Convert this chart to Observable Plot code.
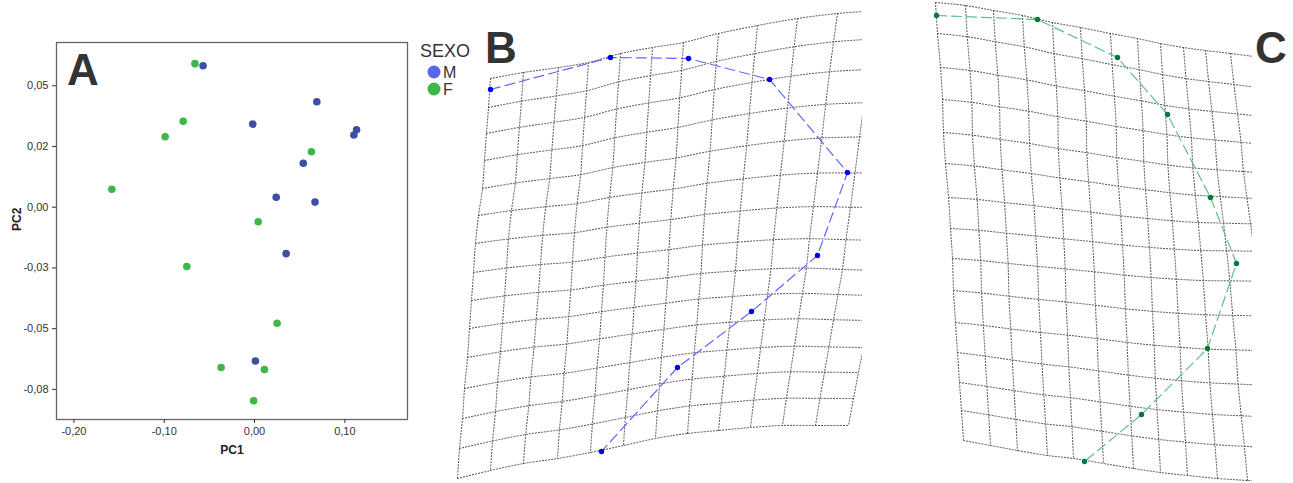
<!DOCTYPE html>
<html><head><meta charset="utf-8">
<script src="https://cdn.jsdelivr.net/npm/d3@7"></script>
<script src="https://cdn.jsdelivr.net/npm/@observablehq/plot@0.6"></script>
<style>
body{margin:0;background:#fff;}
#fig{position:relative;width:1293px;height:483px;overflow:hidden;font-family:"Liberation Sans",Arial,sans-serif;background:#fff;}
#fig .panel{position:absolute;top:0;}
#fig svg{overflow:visible;}
</style></head><body><div id="fig"></div>
<script>
// ---------- Panel A: PCA scores ----------
const sexo = ["M", "F"];
const pc1M = [-0.057, 0.069, -0.002, 0.113, 0.110, 0.054, 0.024, 0.067, 0.035, 0.001];
const pc2M = [0.0582, 0.0434, 0.0342, 0.0319, 0.0297, 0.0181, 0.0041, 0.0021, -0.0191, -0.0633];
const pc1F = [-0.066, -0.079, -0.099, -0.158, 0.063, 0.004, -0.075, 0.025, -0.037, 0.011, -0.001];
const pc2F = [0.0591, 0.0354, 0.0290, 0.0074, 0.0228, -0.0060, -0.0244, -0.0478, -0.0660, -0.0668, -0.0797];
const xTicks = [-0.2, -0.1, 0, 0.1];
const xTickLabels = ["-0,20", "-0,10", "0,00", "0,10"];
const yTicks = [0.05, 0.025, 0, -0.025, -0.05, -0.075];
const yTickLabels = ["0,05", "0,02", "0,00", "-0,03", "-0,05", "-0,08"];

// ---------- Panel B: deformation grid (boundary nodes) and landmarks ----------
const bTopX = [490,523,558,588,620,652,683,718,757,797,837,877,917];
const bTopY = [78,72,67,62,53,47,42,33,25,18,13,10,6.5];
const bBotX = [457,490,523,557,590,623,655,687,718,750,782,815,848];
const bBotY = [478,470,463,458,452,445,438,433,430,427,425,425,425];
const bLeftX = [490,488,486,484,482,478,475,473,471,469,467,464,462,459,457];
const bLeftY = [78,107,133,160,188,215,243,272,300,328,357,388,418,448,478];
const bRightX = [917,912,907,902,897,892,887,882,878,873,868,863,858,853,848];
const bRightY = [6.5,35,66,100,135,172,207,240,270,295,320,347,372,398,425];
const bLmX = [490,610,688,769,847,817,751,677,601];
const bLmY = [89,57,58,79,172,255,311,367,451];

// ---------- Panel C ----------
const cTopX = [935,965,993,1022,1052,1080,1110,1137,1160,1183,1205,1230,1253];
const cTopY = [2,5,10,15,22,27,33,38,43,47,50,53,56];
const cBotX = [963,990,1017,1047,1073,1103,1133,1160,1187,1217,1247,1277,1307];
const cBotY = [440,445,450,455,458,463,468,472,475,478,480,482,484];
const cLeftX = [935,937,940,942,943,945,948,950,952,953,955,957,959,961,963];
const cLeftY = [2,33,67,99,132,163,197,228,258,290,322,352,382,410,440];
const cRightX = [1253,1257,1261,1265,1268,1272,1276,1280,1284,1288,1292,1295,1299,1303,1307];
const cRightY = [56,87,116,144,173,199,224,251,281,316,351,386,418,449,484];
const cLmX = [936,1037,1117,1167,1210,1236,1207,1141,1084];
const cLmY = [15,19,57,114,197,263,348,414,461];

const fig = document.getElementById("fig");
const FONT = "Liberation Sans, Arial, sans-serif";

function place(node, left, width) {
  const d = document.createElement("div");
  d.className = "panel";
  d.style.left = left + "px";
  d.style.width = width + "px";
  d.appendChild(node);
  fig.appendChild(d);
}

// Panel A
const ptsA = [
  ...pc1M.map((v, i) => ({pc1: v, pc2: pc2M[i], sexo: "M"})),
  ...pc1F.map((v, i) => ({pc1: v, pc2: pc2F[i], sexo: "F"}))
];
const plotA = Plot.plot({
  width: 470, height: 483,
  marginLeft: 56, marginRight: 63, marginTop: 42, marginBottom: 64,
  style: {fontFamily: FONT, fontSize: "11px", color: "#333", background: "transparent"},
  x: {domain: [-0.2193, 0.1694]},
  y: {domain: [-0.0874, 0.0678]},
  color: {domain: sexo, range: ["#3c4fa5", "#3cb84a"]},
  marks: [
    Plot.frame({stroke: "#666", strokeWidth: 1.3}),
    Plot.axisX({ticks: xTicks, tickSize: 4, tickPadding: 4, label: null,
      tickFormat: d => xTickLabels[xTicks.indexOf(d)]}),
    Plot.axisY({ticks: yTicks, tickSize: 4, tickPadding: 4, label: null,
      tickFormat: d => yTickLabels[yTicks.indexOf(d)]}),
    Plot.text(["PC1"], {frameAnchor: "bottom", dy: 34, text: d => d, fontWeight: "bold", fontSize: 12, fill: "#222"}),
    Plot.text(["PC2"], {frameAnchor: "left", dx: -39, rotate: -90, text: d => d, fontWeight: "bold", fontSize: 12, fill: "#222"}),
    Plot.dot(ptsA, {x: "pc1", y: "pc2", fill: "sexo", r: 3.8})
  ]
});
place(plotA, 0, 470);

// Grid from boundary nodes (Coons patch)
function gridData(tX, tY, bX, bY, lX, lY, rX, rY) {
  const nc = tX.length - 1, nr = lX.length - 1;
  const nodes = [];
  for (let r = 0; r <= nr; r++) {
    const row = [];
    const v = r / nr;
    for (let c = 0; c <= nc; c++) {
      const u = c / nc;
      const f = (T, B, L, R) =>
        (1 - v) * T[c] + v * B[c] + (1 - u) * L[r] + u * R[r]
        - ((1 - u) * (1 - v) * T[0] + u * (1 - v) * T[nc] + (1 - u) * v * B[0] + u * v * B[nc]);
      row.push({x: f(tX, bX, lX, rX), y: f(tY, bY, lY, rY)});
    }
    nodes.push(row);
  }
  const out = [];
  for (let r = 0; r <= nr; r++) for (let c = 0; c <= nc; c++) out.push({...nodes[r][c], line: "r" + r});
  for (let c = 0; c <= nc; c++) for (let r = 0; r <= nr; r++) out.push({...nodes[r][c], line: "c" + c});
  return out;
}

function deformPlot(grid, lmX, lmY, x0, x1, lineColor, dotColor) {
  const lm = lmX.map((x, i) => ({x, y: lmY[i]}));
  return Plot.plot({
    width: x1 - x0, height: 483, margin: 0,
    style: {background: "transparent"},
    x: {domain: [x0, x1], axis: null},
    y: {domain: [0, 483], reverse: true, axis: null},
    marks: [
      Plot.line(grid, {x: "x", y: "y", z: "line", stroke: "#444", strokeWidth: 1,
        strokeDasharray: "1.1,2", curve: "catmull-rom", clip: true}),
      Plot.line(lm, {x: "x", y: "y", stroke: lineColor, strokeWidth: 1.2, strokeDasharray: "10,5"}),
      Plot.dot(lm, {x: "x", y: "y", r: 2.7, fill: dotColor})
    ]
  });
}

const gridB = gridData(bTopX, bTopY, bBotX, bBotY, bLeftX, bLeftY, bRightX, bRightY);
place(deformPlot(gridB, bLmX, bLmY, 440, 862, "#6464ff", "#0000f0"), 440, 422);
const gridC = gridData(cTopX, cTopY, cBotX, cBotY, cLeftX, cLeftY, cRightX, cRightY);
place(deformPlot(gridC, cLmX, cLmY, 900, 1252, "#5fbf8c", "#00793a"), 900, 352);

// Overlay: panel letters and legend
const ov = d3.select(fig).append("svg")
  .attr("class", "panel").attr("width", 1293).attr("height", 483)
  .style("left", "0px").style("pointer-events", "none")
  .attr("font-family", FONT);
const letters = [["A", 67, 85], ["B", 485, 63], ["C", 1255, 63]];
ov.selectAll("text.letter").data(letters).join("text").attr("class", "letter")
  .attr("x", d => d[1]).attr("y", d => d[2]).text(d => d[0])
  .attr("font-size", 44).attr("font-weight", "bold").attr("fill", "#333");
ov.append("text").attr("x", 420).attr("y", 57).text("SEXO").attr("font-size", 18).attr("fill", "#333");
const legColors = ["#5868ee", "#3cb84a"];
sexo.forEach((s, i) => {
  ov.append("circle").attr("cx", 434).attr("cy", 72 + 17 * i).attr("r", 6.5).attr("fill", legColors[i]);
  ov.append("text").attr("x", 443).attr("y", 78 + 17 * i).text(s).attr("font-size", 16).attr("fill", "#333");
});
</script></body></html>
